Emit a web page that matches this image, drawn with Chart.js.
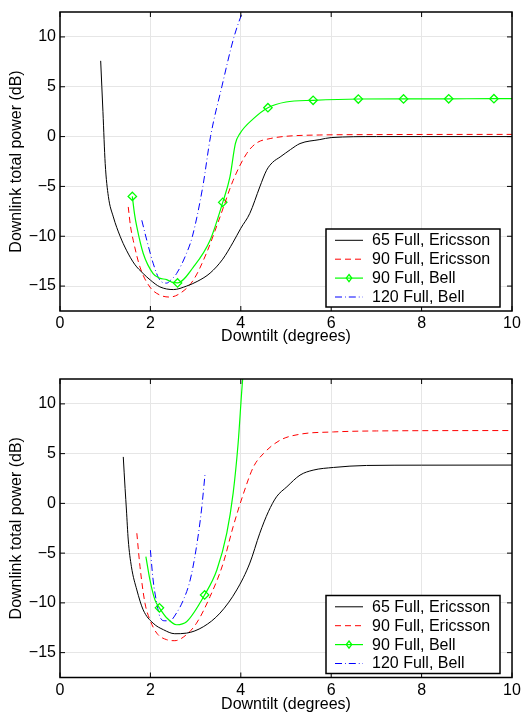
<!DOCTYPE html>
<html><head><meta charset="utf-8">
<script src="https://cdn.jsdelivr.net/npm/chart.js@4.4.1/dist/chart.umd.min.js"></script>
<style>
html,body{margin:0;padding:0;background:#fff;}
#wrap{position:relative;width:521px;height:713px;overflow:hidden;}
canvas{position:absolute;left:0;}
</style>
</head><body>
<div id="wrap">
<canvas id="c1" width="521" height="356" style="top:0px"></canvas>
<canvas id="c2" width="521" height="357" style="top:356px"></canvas>
</div>
<script>
// ---------- data ----------
const X_TICKS = [0, 2, 4, 6, 8, 10];
const Y_TICKS = [-15, -10, -5, 0, 5, 10];
const X_RANGE = [0, 10];
const Y_RANGE = [-17.5, 12.5];
const X_TITLE = 'Downtilt (degrees)';
const Y_TITLE = 'Downlink total power (dB)';
const LABELS = ['65 Full, Ericsson', '90 Full, Ericsson', '90 Full, Bell', '120 Full, Bell'];

// top panel
const TOP_E65 = [[0.90,7.6],[0.95,2.5],[1.0,-2.7],[1.07,-6.0],[1.18,-8.06],[1.33,-10.0],[1.47,-11.4],[1.65,-12.8],[1.84,-13.74],[2.0,-14.4],[2.21,-15.08],[2.51,-15.35],[2.8,-15.0],[3.05,-14.5],[3.32,-13.7],[3.6,-12.3],[3.83,-10.6],[4.0,-9.2],[4.2,-7.7],[4.42,-5.05],[4.57,-3.38],[4.7,-2.6],[4.87,-2.05],[5.1,-1.3],[5.31,-0.7],[5.75,-0.3],[6.0,-0.1],[7.0,0.0],[8.0,0.0],[10.0,0.0]];
const TOP_E90 = [[1.51,-7.06],[1.56,-9.0],[1.62,-10.4],[1.77,-13.1],[1.99,-15.1],[2.21,-15.9],[2.43,-16.1],[2.65,-15.75],[2.95,-14.4],[3.24,-11.7],[3.54,-8.06],[3.83,-4.4],[4.13,-1.7],[4.35,-0.64],[4.65,-0.2],[5.0,0.03],[5.75,0.16],[7.0,0.2],[10.0,0.22]];
const TOP_B90 = [[1.6,-6.0],[1.65,-7.8],[1.70,-9.07],[1.84,-11.7],[2.06,-13.74],[2.2,-14.2],[2.36,-14.35],[2.47,-14.6],[2.6,-14.68],[2.95,-13.1],[3.32,-10.4],[3.6,-6.6],[3.76,-4.05],[3.88,-0.7],[3.98,0.3],[4.28,1.8],[4.6,2.9],[5.0,3.47],[5.6,3.64],[6.6,3.77],[7.6,3.78],[8.6,3.79],[9.6,3.8],[10.0,3.8]];
const TOP_B120 = [[1.81,-8.4],[1.92,-10.4],[2.06,-12.7],[2.21,-14.4],[2.36,-14.7],[2.45,-14.4],[2.58,-13.74],[2.8,-11.7],[2.93,-10.0],[3.16,-5.0],[3.33,0.0],[3.58,5.0],[3.85,10.0],[4.1,13.3]];
const TOP_B90_MARKS = [1.6, 2.6, 3.6, 4.6, 5.6, 6.6, 7.6, 8.6, 9.6];

// bottom panel
const BOT_E65 = [[1.40,4.67],[1.44,1.5],[1.47,-0.67],[1.51,-3.68],[1.58,-6.36],[1.70,-8.7],[1.84,-10.7],[2.06,-12.04],[2.29,-12.7],[2.54,-13.1],[2.80,-13.04],[3.17,-12.4],[3.54,-11.03],[3.91,-8.7],[4.2,-6.0],[4.42,-3.0],[4.61,-0.84],[4.79,0.66],[5.02,1.67],[5.31,2.84],[5.6,3.34],[6.05,3.61],[6.78,3.81],[8.0,3.84],[10.0,3.85]];
const BOT_E90 = [[1.70,-3.0],[1.77,-6.36],[1.88,-10.03],[1.99,-11.7],[2.14,-13.04],[2.36,-13.7],[2.54,-13.8],[2.77,-13.3],[3.02,-12.04],[3.32,-9.37],[3.61,-6.02],[3.83,-2.35],[4.06,1.0],[4.28,3.67],[4.5,5.0],[4.87,6.35],[5.31,6.95],[6.05,7.18],[7.0,7.28],[10.0,7.32]];
const BOT_B90 = [[1.90,-5.35],[1.99,-7.7],[2.10,-9.7],[2.2,-10.5],[2.36,-11.5],[2.58,-12.2],[2.80,-11.9],[3.2,-9.2],[3.47,-6.7],[3.69,-3.0],[3.83,1.0],[3.94,6.0],[4.04,12.4],[4.08,14.0]];
const BOT_B120 = [[2.0,-4.7],[2.06,-7.7],[2.14,-10.0],[2.21,-11.4],[2.32,-11.8],[2.43,-11.8],[2.58,-11.0],[2.73,-9.7],[2.88,-7.7],[3.02,-4.35],[3.13,-0.67],[3.21,3.0]];
const BOT_B90_MARKS = [2.2, 3.2];

// ---------- styling / chart ----------
const FONT_FAMILY = '"Liberation Sans", Arial, Helvetica, sans-serif';
const STYLES = [
  {color:'#000000', dash:[], width:1},
  {color:'#ff0000', dash:[6,4], width:1},
  {color:'#00ff00', dash:[], width:1.2, marker:true},
  {color:'#0000ff', dash:[7,3,0.8,3], width:1}
];

function toXY(arr){ return arr.map(p => ({x:p[0], y:p[1]})); }

function makeDatasets(series, marks){
  return series.map((s, i) => {
    const st = STYLES[i];
    return {
      label: LABELS[i],
      data: toXY(s),
      borderColor: st.color,
      backgroundColor: st.color,
      borderWidth: st.width,
      borderDash: st.dash,
      fill: false,
      cubicInterpolationMode: 'monotone',
      legendMarker: !!st.marker,
      pointStyle: 'rectRot',
      pointRadius: st.marker ? (ctx => (ctx.raw && marks.includes(ctx.raw.x)) ? 4.2 : 0) : 0,
      pointHoverRadius: 0,
      pointBorderColor: st.color,
      pointBackgroundColor: 'rgba(0,0,0,0)',
      pointBorderWidth: 1.3
    };
  });
}

const framePlugin = {
  id: 'frame',
  afterDatasetsDraw(chart){
    const {ctx, chartArea:a, scales:{x, y}} = chart;
    ctx.save();
    ctx.strokeStyle = '#000';
    ctx.lineWidth = 1;
    const TL = 5;
    ctx.beginPath();
    X_TICKS.forEach(v => { const p = x.getPixelForValue(v);
      ctx.moveTo(p, a.bottom); ctx.lineTo(p, a.bottom - TL);
      ctx.moveTo(p, a.top); ctx.lineTo(p, a.top + TL); });
    Y_TICKS.forEach(v => { const p = y.getPixelForValue(v);
      ctx.moveTo(a.left, p); ctx.lineTo(a.left + TL, p);
      ctx.moveTo(a.right, p); ctx.lineTo(a.right - TL, p); });
    ctx.stroke();
    ctx.lineWidth = 1.5;
    ctx.strokeRect(a.left, a.top, a.right - a.left, a.bottom - a.top);
    ctx.restore();
  },
  afterDraw(chart){
    const {ctx, chartArea:a} = chart;
    const w = 174, h = 78;
    const bx = a.right - 12 - w, by = a.bottom - 4 - h;
    ctx.save();
    ctx.fillStyle = '#fff';
    ctx.fillRect(bx, by, w, h);
    ctx.strokeStyle = '#000'; ctx.lineWidth = 1.5;
    ctx.strokeRect(bx, by, w, h);
    ctx.font = '16px ' + FONT_FAMILY;
    ctx.textBaseline = 'middle';
    chart.data.datasets.forEach((ds, i) => {
      const cy = by + 11.3 + i * 18.9;
      ctx.strokeStyle = ds.borderColor;
      ctx.lineWidth = ds.borderWidth;
      ctx.setLineDash(ds.borderDash || []);
      ctx.beginPath(); ctx.moveTo(bx + 9, cy); ctx.lineTo(bx + 37, cy); ctx.stroke();
      ctx.setLineDash([]);
      if (ds.legendMarker){
        const mx = bx + 23, r = 3.6;
        ctx.lineWidth = 1.3;
        ctx.beginPath();
        ctx.moveTo(mx, cy - r); ctx.lineTo(mx + r*0.75, cy); ctx.lineTo(mx, cy + r); ctx.lineTo(mx - r*0.75, cy); ctx.closePath();
        ctx.stroke();
      }
      ctx.fillStyle = '#000';
      ctx.fillText(ds.label, bx + 46, cy + 0.5);
    });
    ctx.restore();
  }
};

function fmt(v){ return v < 0 ? '\u2212' + Math.abs(v) : String(v); }

function makeChart(id, series, marks, padTop, xHeight, xTitlePad){
  return new Chart(document.getElementById(id), {
    type: 'line',
    data: { datasets: makeDatasets(series, marks) },
    plugins: [framePlugin],
    options: {
      responsive: false,
      animation: false,
      events: [],
      layout: { autoPadding: false, padding: { left: 0, right: 9, top: padTop, bottom: 0 } },
      plugins: { legend: { display: false }, tooltip: { enabled: false } },
      scales: {
        x: {
          type: 'linear', min: X_RANGE[0], max: X_RANGE[1],
          afterBuildTicks: s => { s.ticks = X_TICKS.map(v => ({value: v})); },
          afterFit: s => { s.height = xHeight; s.paddingLeft = 0; s.paddingRight = 0; },
          grid: { color: '#e6e6e6', lineWidth: 1, drawTicks: false },
          border: { display: false },
          ticks: { color: '#000', padding: 5, font: { family: FONT_FAMILY, size: 16, lineHeight: 1 }, callback: v => fmt(v), maxRotation: 0, autoSkip: false },
          title: { display: true, text: X_TITLE, color: '#000', font: { family: FONT_FAMILY, size: 16, lineHeight: 1 }, padding: { top: 0, bottom: xTitlePad } }
        },
        y: {
          type: 'linear', min: Y_RANGE[0], max: Y_RANGE[1],
          afterBuildTicks: s => { s.ticks = Y_TICKS.map(v => ({value: v})); },
          afterFit: s => { s.width = 60; s.paddingTop = 0; s.paddingBottom = 0; },
          grid: { color: '#e6e6e6', lineWidth: 1, drawTicks: false },
          border: { display: false },
          ticks: { color: '#000', padding: 4, font: { family: FONT_FAMILY, size: 16, lineHeight: 1 }, callback: v => fmt(v), autoSkip: false },
          title: { display: true, text: Y_TITLE, color: '#000', font: { family: FONT_FAMILY, size: 16, lineHeight: 1 }, padding: { top: 8.7, bottom: 0 } }
        }
      }
    }
  });
}

makeChart('c1', [TOP_E65, TOP_E90, TOP_B90, TOP_B120], TOP_B90_MARKS, 12, 45, 11.3);
makeChart('c2', [BOT_E65, BOT_E90, BOT_B90, BOT_B120], BOT_B90_MARKS, 23, 35.5, 0.7);
</script>
</body></html>
